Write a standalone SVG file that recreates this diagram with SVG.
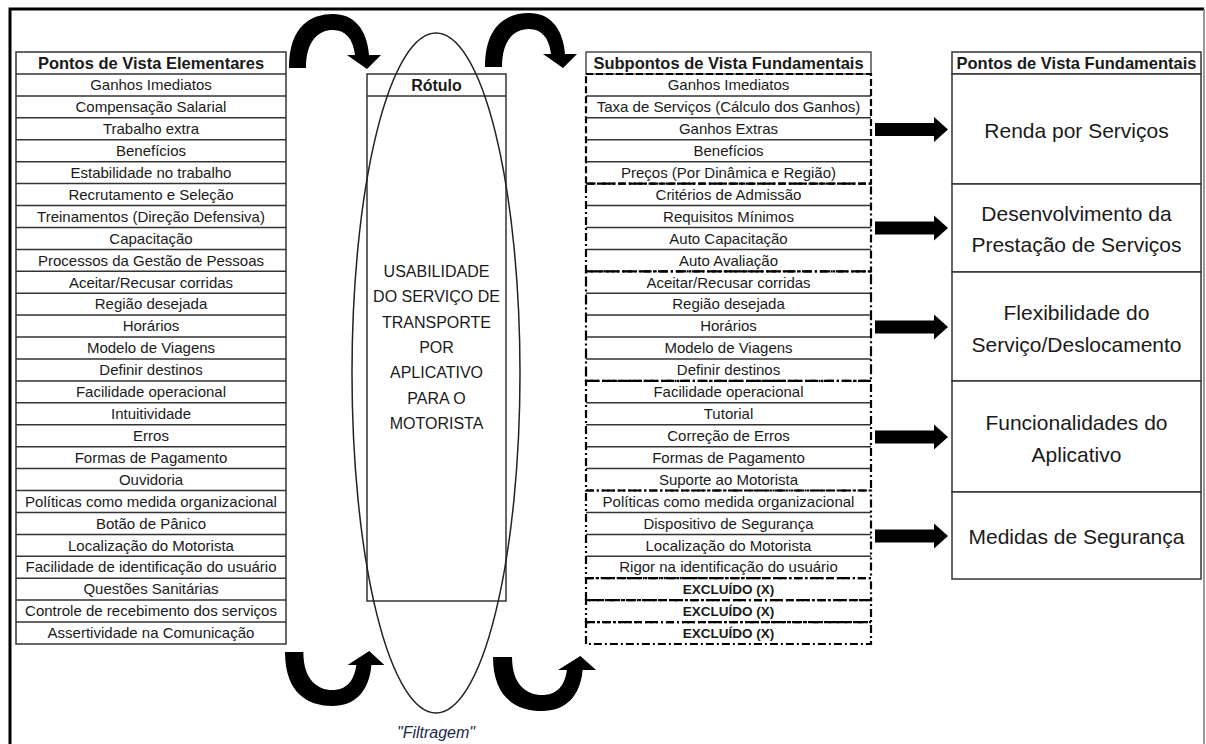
<svg xmlns="http://www.w3.org/2000/svg" width="1206" height="744" viewBox="0 0 1206 744">
<style>
.t{font-family:"Liberation Sans",Arial,sans-serif;font-size:15px;fill:#1a1a1a;text-anchor:middle}
.hb{font-weight:bold;font-size:16.5px}
.ex{font-weight:bold;font-size:13.5px}
.big{font-size:21px}
.mid{font-size:16px}
.fil{font-style:italic;font-size:16px;fill:#1c2748}
.cell{fill:#fff;stroke:#333;stroke-width:1.5}
.sep{fill:none;stroke:#333;stroke-width:1.5}
.g1{fill:none;stroke:#000;stroke-width:2.2;stroke-dasharray:7 3}
.g2{fill:none;stroke:#000;stroke-width:2.2;stroke-dasharray:8 3 2 3}
.g3{fill:none;stroke:#000;stroke-width:2.2;stroke-dasharray:10 3 2 3}
.g5{fill:none;stroke:#000;stroke-width:2.2;stroke-dasharray:8 3 2 3 2 3}
.arr{fill:#000}
</style>
<defs>
<path id="ca" d="M0,0 C0,-42 22,-54 44,-54 C64,-54 78,-40 80,-13 L92,-13 L78,1 L58,-13 L66,-13 C64,-30 56,-38 44,-38 C30,-38 17,-28 17,0 Z"/>
<path id="ba" d="M0,-6.5 H59 V-12.5 L73,0 L59,12.5 V6.5 H0 Z"/>
</defs>
<rect width="1206" height="744" fill="#fff"/>
<g id="frame">
<path d="M10,744 V9 H1204" fill="none" stroke="#000" stroke-width="3"/>
<path d="M1204,9 V744" fill="none" stroke="#777" stroke-width="1.5"/>
</g>

<g id="elementares">
<rect class="cell" x="16" y="52" width="270" height="592"/>
<path class="sep" d="M16,74H286 M16,95.9H286 M16,117.8H286 M16,139.8H286 M16,161.7H286 M16,183.6H286 M16,205.5H286 M16,227.5H286 M16,249.4H286 M16,271.3H286 M16,293.2H286 M16,315.1H286 M16,337.1H286 M16,359H286 M16,380.9H286 M16,402.8H286 M16,424.8H286 M16,446.7H286 M16,468.6H286 M16,490.5H286 M16,512.4H286 M16,534.4H286 M16,556.3H286 M16,578.2H286 M16,600.1H286 M16,622.1H286"/>
<text class="t hb" x="151" y="69">Pontos de Vista Elementares</text>
<text class="t" x="151" y="90.2">Ganhos Imediatos</text>
<text class="t" x="151" y="112.1">Compensação Salarial</text>
<text class="t" x="151" y="134">Trabalho extra</text>
<text class="t" x="151" y="155.9">Benefícios</text>
<text class="t" x="151" y="177.8">Estabilidade no trabalho</text>
<text class="t" x="151" y="199.8">Recrutamento e Seleção</text>
<text class="t" x="151" y="221.7">Treinamentos (Direção Defensiva)</text>
<text class="t" x="151" y="243.6">Capacitação</text>
<text class="t" x="151" y="265.5">Processos da Gestão de Pessoas</text>
<text class="t" x="151" y="287.5">Aceitar/Recusar corridas</text>
<text class="t" x="151" y="309.4">Região desejada</text>
<text class="t" x="151" y="331.3">Horários</text>
<text class="t" x="151" y="353.2">Modelo de Viagens</text>
<text class="t" x="151" y="375.1">Definir destinos</text>
<text class="t" x="151" y="397.1">Facilidade operacional</text>
<text class="t" x="151" y="419">Intuitividade</text>
<text class="t" x="151" y="440.9">Erros</text>
<text class="t" x="151" y="462.8">Formas de Pagamento</text>
<text class="t" x="151" y="484.8">Ouvidoria</text>
<text class="t" x="151" y="506.7">Políticas como medida organizacional</text>
<text class="t" x="151" y="528.6">Botão de Pânico</text>
<text class="t" x="151" y="550.5">Localização do Motorista</text>
<text class="t" x="151" y="572.4">Facilidade de identificação do usuário</text>
<text class="t" x="151" y="594.4">Questões Sanitárias</text>
<text class="t" x="151" y="616.3">Controle de recebimento dos serviços</text>
<text class="t" x="151" y="638.2">Assertividade na Comunicação</text>
</g>

<g id="rotulo">
<rect class="cell" x="367" y="74" width="139" height="527"/>
<path class="sep" d="M367,96H506"/>
<text class="t hb" x="436.5" y="90.7" style="font-size:16px">Rótulo</text>
<ellipse cx="436" cy="373" rx="84" ry="340" fill="none" stroke="#222" stroke-width="1.5"/>
<text class="t mid" x="436.5" y="277">USABILIDADE</text>
<text class="t mid" x="436.5" y="302.3">DO SERVIÇO DE</text>
<text class="t mid" x="436.5" y="327.6">TRANSPORTE</text>
<text class="t mid" x="436.5" y="352.9">POR</text>
<text class="t mid" x="436.5" y="378.2">APLICATIVO</text>
<text class="t mid" x="436.5" y="403.5">PARA O</text>
<text class="t mid" x="436.5" y="428.8">MOTORISTA</text>
<text class="t fil" x="436" y="738">"Filtragem"</text>
</g>

<g id="subpontos">
<rect x="586" y="52" width="285" height="22" fill="#fff" stroke="#333" stroke-width="1.3"/>
<text class="t hb" x="728.5" y="69">Subpontos de Vista Fundamentais</text>
<path class="sep" d="M586,95.9H871 M586,117.8H871 M586,139.8H871 M586,161.7H871 M586,205.5H871 M586,227.5H871 M586,249.4H871 M586,293.2H871 M586,315.1H871 M586,337.1H871 M586,359H871 M586,402.8H871 M586,424.8H871 M586,446.7H871 M586,468.6H871 M586,512.4H871 M586,534.4H871 M586,556.3H871"/>
<rect class="g1" x="586" y="74" width="285" height="109.6"/>
<rect class="g2" x="586" y="183.6" width="285" height="87.7"/>
<rect class="g3" x="586" y="271.3" width="285" height="109.6"/>
<rect class="g2" x="586" y="380.9" width="285" height="109.6"/>
<rect class="g5" x="586" y="490.5" width="285" height="87.7"/>
<rect class="g2" x="586" y="578.2" width="285" height="21.9"/>
<rect class="g5" x="586" y="600.1" width="285" height="22"/>
<rect class="g2" x="586" y="622.1" width="285" height="21.9"/>
<text class="t" x="728.5" y="90.2">Ganhos Imediatos</text>
<text class="t" x="728.5" y="112.1">Taxa de Serviços (Cálculo dos Ganhos)</text>
<text class="t" x="728.5" y="134">Ganhos Extras</text>
<text class="t" x="728.5" y="155.9">Benefícios</text>
<text class="t" x="728.5" y="177.8">Preços (Por Dinâmica e Região)</text>
<text class="t" x="728.5" y="199.8">Critérios de Admissão</text>
<text class="t" x="728.5" y="221.7">Requisitos Mínimos</text>
<text class="t" x="728.5" y="243.6">Auto Capacitação</text>
<text class="t" x="728.5" y="265.5">Auto Avaliação</text>
<text class="t" x="728.5" y="287.5">Aceitar/Recusar corridas</text>
<text class="t" x="728.5" y="309.4">Região desejada</text>
<text class="t" x="728.5" y="331.3">Horários</text>
<text class="t" x="728.5" y="353.2">Modelo de Viagens</text>
<text class="t" x="728.5" y="375.1">Definir destinos</text>
<text class="t" x="728.5" y="397.1">Facilidade operacional</text>
<text class="t" x="728.5" y="419">Tutorial</text>
<text class="t" x="728.5" y="440.9">Correção de Erros</text>
<text class="t" x="728.5" y="462.8">Formas de Pagamento</text>
<text class="t" x="728.5" y="484.8">Suporte ao Motorista</text>
<text class="t" x="728.5" y="506.7">Políticas como medida organizacional</text>
<text class="t" x="728.5" y="528.6">Dispositivo de Segurança</text>
<text class="t" x="728.5" y="550.5">Localização do Motorista</text>
<text class="t" x="728.5" y="572.4">Rigor na identificação do usuário</text>
<text class="t ex" x="728.5" y="594">EXCLUÍDO (X)</text>
<text class="t ex" x="728.5" y="616">EXCLUÍDO (X)</text>
<text class="t ex" x="728.5" y="638">EXCLUÍDO (X)</text>
</g>

<g id="fundamentais">
<rect class="cell" x="952" y="52" width="249" height="22"/>
<text class="t hb" x="1076.5" y="69">Pontos de Vista Fundamentais</text>
<g id="renda"><rect class="cell" x="952" y="74" width="249" height="110"/>
<text class="t big" x="1076.5" y="138">Renda por Serviços</text></g>
<g id="desenvolvimento"><rect class="cell" x="952" y="184" width="249" height="88"/>
<text class="t big" x="1076.5" y="220.6">Desenvolvimento da</text>
<text class="t big" x="1076.5" y="252.3">Prestação de Serviços</text></g>
<g id="flexibilidade"><rect class="cell" x="952" y="272" width="249" height="109"/>
<text class="t big" x="1076.5" y="320">Flexibilidade do</text>
<text class="t big" x="1076.5" y="352.3">Serviço/Deslocamento</text></g>
<g id="funcionalidades"><rect class="cell" x="952" y="381" width="249" height="111"/>
<text class="t big" x="1076.5" y="430">Funcionalidades do</text>
<text class="t big" x="1076.5" y="462.3">Aplicativo</text></g>
<g id="seguranca"><rect class="cell" x="952" y="492" width="249" height="87"/>
<text class="t big" x="1076.5" y="544">Medidas de Segurança</text></g>
</g>

<g id="connectors" class="arr">
<use href="#ca" transform="translate(289,68)"/>
<use href="#ca" transform="translate(485,67)"/>
<use href="#ca" transform="translate(285,652) scale(1.08,-1)"/>
<use href="#ca" transform="translate(493,657) scale(1.12,-1)"/>
<use href="#ba" transform="translate(875,129.5)"/>
<use href="#ba" transform="translate(875,228)"/>
<use href="#ba" transform="translate(875,327)"/>
<use href="#ba" transform="translate(875,437)"/>
<use href="#ba" transform="translate(875,536)"/>
</g>
</svg>
